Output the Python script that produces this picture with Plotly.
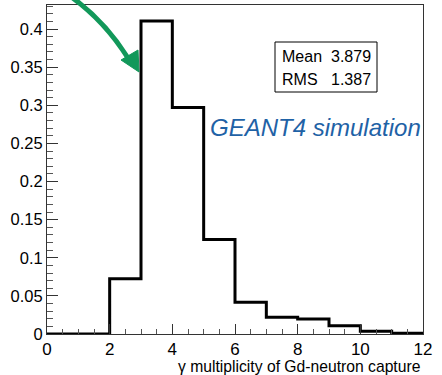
import plotly.graph_objects as go

# Data: gamma multiplicity histogram (bin width 1, 0..12)
bin_edges = [0, 1, 2, 3, 4, 5, 6, 7, 8, 9, 10, 11, 12]
bin_values = [0.0, 0.0, 0.0725, 0.4105, 0.297, 0.124, 0.0415, 0.0219, 0.0197, 0.0109, 0.0035, 0.001]
x_ticks = [0, 2, 4, 6, 8, 10, 12]
stats_labels = ["Mean", "RMS"]
stats_values = ["3.879", "1.387"]

W, H = 442, 375
L, R, T, B = 47, 19, 5, 41
PW, PH = W - L - R, H - T - B


def px(x):
    return (x - L) / PW


def py(y):
    return (H - B - y) / PH


xs = list(bin_edges[:-1]) + [bin_edges[-1]]
ys = list(bin_values) + [bin_values[-1]]

fig = go.Figure()
fig.add_trace(go.Scatter(x=xs, y=ys, mode="lines", line=dict(shape="hv", color="black", width=3),
                         showlegend=False, hoverinfo="skip"))

font = "Liberation Sans, Arial, sans-serif"
fig.update_layout(
    width=W, height=H,
    margin=dict(l=L, r=R, t=T, b=B),
    paper_bgcolor="white", plot_bgcolor="white",
    font=dict(family=font, size=16, color="black"),
    xaxis=dict(range=[0, 12], tickvals=x_ticks, ticks="inside", ticklen=10, tickcolor="#333",
               showline=True, linecolor="#333", linewidth=1, mirror=True, showgrid=False, zeroline=False,
               minor=dict(dtick=0.5, ticks="inside", ticklen=5, tickcolor="#555", showgrid=False),
               tickfont=dict(size=17)),
    yaxis=dict(range=[0, 0.4315], tick0=0, dtick=0.05, ticks="inside", ticklen=11, tickcolor="#333",
               showline=True, linecolor="#333", linewidth=1, mirror=True, showgrid=False, zeroline=False,
               minor=dict(dtick=0.01, ticks="inside", ticklen=6, tickcolor="#555", showgrid=False),
               tickfont=dict(size=16.5)),
)

# stats box
fig.add_shape(type="rect", xref="paper", yref="paper", x0=px(275), x1=px(377), y0=py(92), y1=py(42),
              line=dict(color="black", width=1), fillcolor="white", layer="above")
for i, (lab, val) in enumerate(zip(stats_labels, stats_values)):
    yy = py(56 + 24 * i)
    fig.add_annotation(xref="paper", yref="paper", x=px(280), y=yy, text=lab, showarrow=False,
                       xanchor="left", yanchor="middle", font=dict(size=16))
    fig.add_annotation(xref="paper", yref="paper", x=px(373), y=yy, text=val, showarrow=False,
                       xanchor="right", yanchor="middle", font=dict(size=16))

fig.add_annotation(xref="paper", yref="paper", x=px(208), y=py(127), text="<i>GEANT4 simulation</i>",
                   showarrow=False, xanchor="left", yanchor="middle",
                   font=dict(size=24, color="#1f62a6"))

fig.add_annotation(xref="paper", yref="paper", x=px(423), y=py(366),
                   text="γ multiplicity of Gd-neutron capture", showarrow=False,
                   xanchor="right", yanchor="middle", font=dict(size=15.7))

# green arrow
green = "#12985a"
p0, c, p1 = (70, -4), (104, 20), (128, 58)
path = f"M {px(p0[0])},{py(p0[1])} Q {px(c[0])},{py(c[1])} {px(p1[0])},{py(p1[1])}"
fig.add_shape(type="path", xref="paper", yref="paper", path=path, line=dict(color=green, width=5),
              layer="above")
tip, a, b = (139, 72), (121, 60), (138, 50)
tri = f"M {px(tip[0])},{py(tip[1])} L {px(a[0])},{py(a[1])} L {px(b[0])},{py(b[1])} Z"
fig.add_shape(type="path", xref="paper", yref="paper", path=tri, fillcolor=green,
              line=dict(color=green, width=1), layer="above")

fig.write_html("out.html")
